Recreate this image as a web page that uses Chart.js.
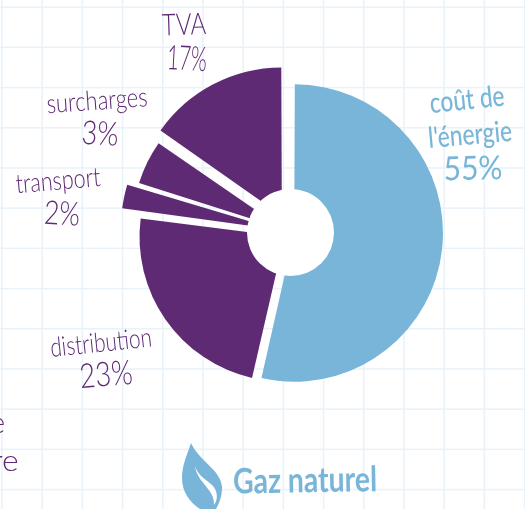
<!DOCTYPE html>
<html><head><meta charset="utf-8">
<style>html,body{margin:0;padding:0;background:#fff;width:525px;height:509px;overflow:hidden}
#w{position:relative;width:525px;height:509px}
canvas{position:absolute;left:0;top:0}
svg{position:absolute;left:0;top:0}</style>
<script src="https://cdn.jsdelivr.net/npm/chart.js@4"></script>
</head><body><div id="w"><canvas id="c" width="525" height="509"></canvas>
<svg width="525" height="509" viewBox="0 0 525 509"><path fill="#78b5d8" d="M191 443C187 455 182 465 182 478C182 494 192 505 205 512L214 512C219 505 222 497 222 487C221 470 200 462 191 443Z"/><path fill="#fff" d="M195 466C196 476 203 482 208 489C212 494 214 498 214 505C218 500 218 492 213 486C206 479 198 476 195 466Z"/></svg></div>
<script>
const categories = ["coût de l'énergie","distribution","transport","surcharges","TVA"];
const printedPercent = [55,23,2,3,17];
const drawnShare = [53.6,23.4,2.8,4.9,15.3];
const sliceColors = ["#78b5d8","#5f2a74","#5f2a74","#5f2a74","#5f2a74"];
const sliceOffsets = [15,29,55,34,75];
const PURPLE="#5f2a74", BLUE="#78b5d8";
// text, centre x, centre y, rotation deg, target width, px size, weight, colour
const textItems = [
 ["TVA",184,25,-2,44,30,300,PURPLE],
 [printedPercent[4]+"%",187,59,3,40,34,300,PURPLE],
 ["surcharges",97,101,-4,101,27,300,PURPLE],
 [printedPercent[3]+"%",100,134,3,37,33,300,PURPLE],
 ["transport",58,181,-5,85,27,300,PURPLE],
 [printedPercent[2]+"%",62,214,3,36,33,300,PURPLE],
 ["distribution",101,343,-6,102,27,300,PURPLE],
 [printedPercent[1]+"%",106,375,-5,53,34,300,PURPLE],
 ["coût de",467,100,-6,75,29,500,BLUE],
 ["l'énergie",470,135,-5,84,29,500,BLUE],
 [printedPercent[0]+"%",473,169,-1,59,33,400,BLUE],
 ["e",-2,424,0,14,29,300,PURPLE],
 ["re",5,462,0,27,29,300,PURPLE],
 ["Gaz naturel",305,481,-1,144,35,700,BLUE]
];
const gridPlugin={id:"grid",beforeDraw(ch){const g=ch.ctx;g.save();g.fillStyle="#e9f2f9";
 for(let x=1.2;x<525;x+=40.2)g.fillRect(x,0,1.5,509);
 for(let y=6.4;y<509;y+=40.2)g.fillRect(0,y,525,1.5);g.restore();}};
const holePlugin={id:"hole",afterDatasetsDraw(ch){const g=ch.ctx,a=ch.chartArea;g.save();g.fillStyle="#fff";g.beginPath();
 g.arc((a.left+a.right)/2,(a.top+a.bottom)/2,43.5,0,Math.PI*2);g.fill();g.restore();}};
const textPlugin={id:"txt",afterDraw(ch){const g=ch.ctx;
 for(const [t,x,y,r,w,s,wt,col] of textItems){g.save();g.font=wt+" "+s+"px Lato, sans-serif";g.fillStyle=col;g.textAlign="center";g.textBaseline="middle";
  const m=g.measureText(t).width;g.translate(x,y);g.rotate(r*Math.PI/180);g.scale(w/m,1);g.fillText(t,0,0);g.restore();}}};
new Chart(document.getElementById("c"),{type:"pie",
 data:{labels:categories,datasets:[{data:drawnShare,backgroundColor:sliceColors,offset:sliceOffsets,borderWidth:0}]},
 options:{responsive:false,animation:false,layout:{padding:{left:108,right:52,top:50,bottom:94}},
  plugins:{legend:{display:false},tooltip:{enabled:false}}},
 plugins:[gridPlugin,holePlugin,textPlugin]});
</script></body></html>
